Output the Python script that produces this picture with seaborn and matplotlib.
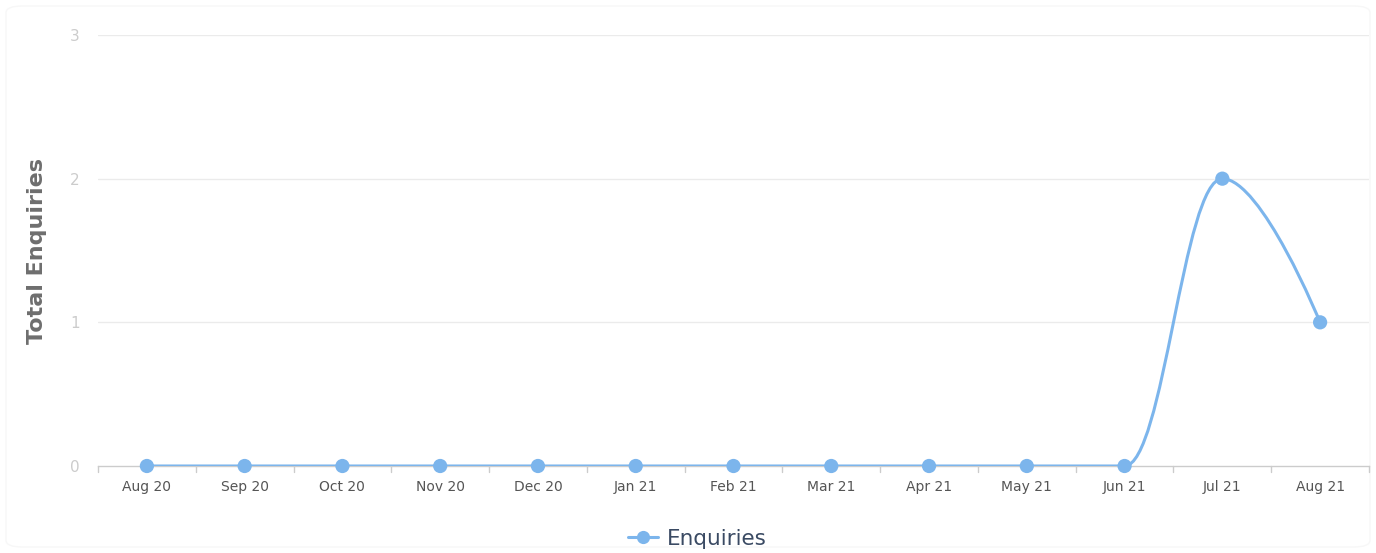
import numpy as np
import pandas as pd
import seaborn as sns
import matplotlib
matplotlib.use("Agg")
import matplotlib.pyplot as plt
from matplotlib.path import Path
from matplotlib.patches import PathPatch, FancyBboxPatch
from matplotlib.lines import Line2D

months = ["Aug 20", "Sep 20", "Oct 20", "Nov 20", "Dec 20", "Jan 21", "Feb 21",
          "Mar 21", "Apr 21", "May 21", "Jun 21", "Jul 21", "Aug 21"]
enquiries = [0, 0, 0, 0, 0, 0, 0, 0, 0, 0, 0, 2, 1]
y_ticks = [0, 1, 2, 3]
series_name = "Enquiries"
y_title = "Total Enquiries"

LINE_COLOR = "#7cb5ec"

sns.set_theme(style="white")
plt.rcParams['font.family'] = ['DejaVu Sans']

fig = plt.figure(figsize=(13.76, 5.53), dpi=100)
ax = fig.add_axes([98/1376, 1 - 466/553, (1369 - 98)/1376, (466 - 35)/553])

df = pd.DataFrame({"x": np.arange(len(months)), "y": enquiries})


def spline_path(xs, ys, smoothing=1.5):
    """Highcharts-style spline through the data points."""
    n = len(xs)
    lc = [(x, y) for x, y in zip(xs, ys)]
    rc = [(x, y) for x, y in zip(xs, ys)]
    d = smoothing + 1
    for i in range(1, n - 1):
        px, py = xs[i], ys[i]
        lx, ly = xs[i - 1], ys[i - 1]
        nx, ny = xs[i + 1], ys[i + 1]
        lcx = (smoothing * px + lx) / d
        lcy = (smoothing * py + ly) / d
        rcx = (smoothing * px + nx) / d
        rcy = (smoothing * py + ny) / d
        if rcx != lcx:
            corr = ((rcy - lcy) * (rcx - px)) / (rcx - lcx) + py - rcy
            lcy += corr
            rcy += corr
        if lcy > ly and lcy > py:
            lcy = max(ly, py); rcy = 2 * py - lcy
        elif lcy < ly and lcy < py:
            lcy = min(ly, py); rcy = 2 * py - lcy
        if rcy > ny and rcy > py:
            rcy = max(ny, py); lcy = 2 * py - rcy
        elif rcy < ny and rcy < py:
            rcy = min(ny, py); lcy = 2 * py - rcy
        lc[i] = (lcx, lcy)
        rc[i] = (rcx, rcy)
    verts = [(xs[0], ys[0])]
    codes = [Path.MOVETO]
    for i in range(1, n):
        verts += [rc[i - 1], lc[i], (xs[i], ys[i])]
        codes += [Path.CURVE4] * 3
    return Path(verts, codes)


# grid lines
for t in y_ticks[1:]:
    ax.axhline(t, color="#ebebeb", lw=1, zorder=0)

path = spline_path(list(df["x"].astype(float)), list(df["y"].astype(float)))
ax.add_patch(PathPatch(path, facecolor="none", edgecolor=LINE_COLOR, lw=2.2,
                       zorder=3, capstyle="round", joinstyle="round"))

sns.scatterplot(data=df, x="x", y="y", ax=ax, color=LINE_COLOR, s=105,
                edgecolor="none", zorder=4, clip_on=False, legend=False)

ax.set_xlim(-0.5, len(months) - 0.5)
ax.set_ylim(0, 3)
ax.set_yticks(y_ticks)
ax.set_yticklabels([str(t) for t in y_ticks], color="#cccccc", fontsize=11)
ax.set_xticks(np.arange(len(months)))
ax.set_xticklabels(months, color="#555555", fontsize=10)
ax.tick_params(axis="x", length=0, pad=10)
ax.tick_params(axis="y", length=0, pad=13)
# boundary tick marks
for b in np.arange(-0.5, len(months), 1.0):
    ax.plot([b, b], [0, -0.045], color="#cccccc", lw=1, clip_on=False, zorder=1)

for s in ["top", "right", "left"]:
    ax.spines[s].set_visible(False)
ax.spines["bottom"].set_color("#cccccc")
ax.spines["bottom"].set_linewidth(1)
ax.set_xlabel("")
ax.set_ylabel(y_title, fontsize=16, fontweight="bold", color="#6e6e6e", labelpad=17)

handle = Line2D([], [], color=LINE_COLOR, lw=2.2, marker="o", markersize=9.5,
                markeredgewidth=0)
leg = fig.legend([handle], [series_name], loc="center", bbox_to_anchor=(697/1376, 1 - 539/553),
                 frameon=False, fontsize=15.5, handlelength=1.4, handletextpad=0.4)
for t in leg.get_texts():
    t.set_color("#3a4a63")

# faint rounded container border
fig.patches.append(FancyBboxPatch((6/1376, 6/553), 1364/1376, 541/553,
                                  boxstyle="round,pad=0,rounding_size=0.012",
                                  transform=fig.transFigure, facecolor="none",
                                  edgecolor="#f7f7f7", lw=1, zorder=-1))

fig.savefig("out.png", dpi=100, facecolor="white")
